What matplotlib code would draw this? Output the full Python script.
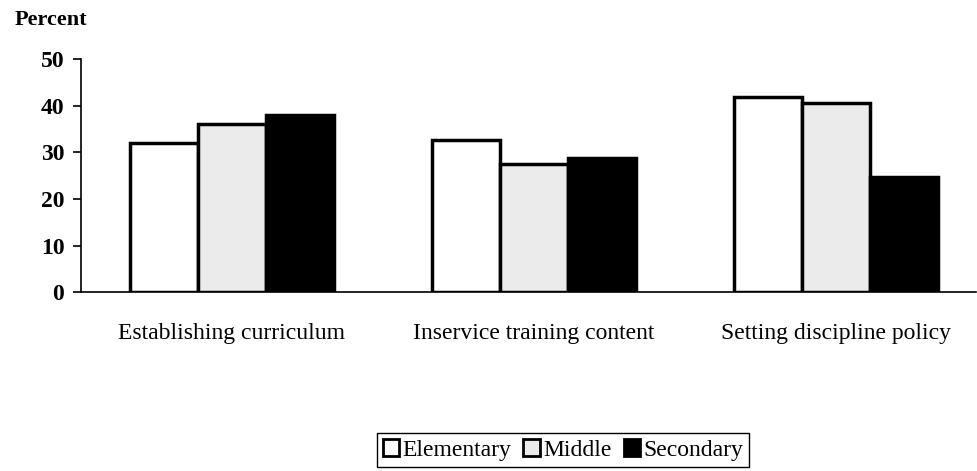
import matplotlib
matplotlib.use("Agg")
import matplotlib.pyplot as plt
import numpy as np
from matplotlib.patches import Patch

categories = ["Establishing curriculum", "Inservice training content", "Setting discipline policy"]
series_names = ["Elementary", "Middle", "Secondary"]
elementary = [32, 32.6, 41.8]
middle = [36, 27.6, 40.6]
secondary = [38.1, 28.8, 24.7]
yticks = [0, 10, 20, 30, 40, 50]

plt.rcParams['font.family'] = ['Liberation Serif', 'DejaVu Serif']

fig = plt.figure(figsize=(9.78, 4.71), dpi=100)
W, H = 978, 471
ax = fig.add_axes([81 / W, 1 - 292.3 / H, (976 - 81) / W, (292.3 - 59) / H])

x = np.arange(len(categories))
bw = 0.225
faces = ["white", "#ebebeb", "black"]
data = [elementary, middle, secondary]
for i, (vals, fc) in enumerate(zip(data, faces)):
    ax.bar(x + (i - 1) * bw, vals, width=bw, facecolor=fc, edgecolor="black",
           linewidth=2.5, label=series_names[i], zorder=2)

ax.set_xlim(-0.5, 2.465)
ax.set_ylim(0, 50)
ax.set_yticks(yticks)
ax.set_yticklabels([str(t) for t in yticks], fontsize=17, fontweight="bold")
ax.set_xticks(x)
ax.set_xticklabels(categories, fontsize=17)
ax.tick_params(axis="x", length=0, pad=22)
ax.tick_params(axis="y", direction="out", length=6, width=1.2, pad=6)
for s in ["top", "right"]:
    ax.spines[s].set_visible(False)
ax.spines["left"].set_linewidth(1.2)
ax.spines["bottom"].set_linewidth(1.2)

fig.text(15 / W, 1 - 20 / H, "Percent", fontsize=16, fontweight="bold", va="center", ha="left")

handles = [Patch(facecolor=fc, edgecolor="black", linewidth=2) for fc in faces]
leg = fig.legend(handles, series_names, loc="center", bbox_to_anchor=(563 / W, 1 - 450 / H),
                 ncol=3, fancybox=False, edgecolor="black", fontsize=17,
                 handlelength=0.7, handleheight=0.7, handletextpad=0.15,
                 columnspacing=0.5, borderpad=0.25, borderaxespad=0, framealpha=1)
leg.get_frame().set_linewidth(1.0)

fig.savefig("out.png", dpi=100)
